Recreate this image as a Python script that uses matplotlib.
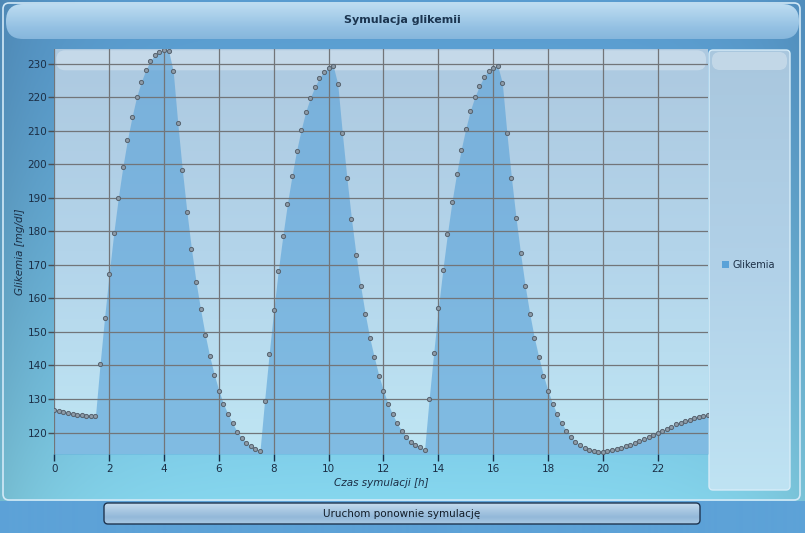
import numpy as np
import matplotlib.pyplot as plt
import matplotlib.colors as mcolors
from matplotlib import font_manager
from matplotlib.patches import FancyBboxPatch

# glucose simulation, one sample every 10 minutes
time_min = np.arange(0, 1440, 10)
glucose = [
    126.8, 126.3, 126.0, 125.7, 125.5, 125.2, 125.1, 124.8, 124.8, 124.8,
    140.3, 154.3, 167.3, 179.4, 190.0, 199.3, 207.3, 214.1, 220.1, 224.5,
    228.1, 230.8, 232.7, 233.6, 234.1,
    233.9, 227.9, 212.4, 198.4, 185.9, 174.8, 165.0, 156.7, 149.2, 142.7,
    137.3, 132.5, 128.6, 125.4, 122.7, 120.3, 118.5, 117.0, 116.1, 115.2, 114.6,
    129.5, 143.5, 156.4, 168.3, 178.7, 188.3, 196.6, 204.1, 210.3, 215.7,
    219.8, 223.1, 225.8, 227.6, 228.8, 229.4,
    224.0, 209.4, 196.0, 183.8, 173.1, 163.8, 155.5, 148.3, 142.4, 137.0,
    132.5, 128.6, 125.4, 122.7, 120.6, 118.8, 117.3, 116.4, 115.8, 114.9,
    130.1, 143.8, 157.0, 168.6, 179.3, 188.9, 197.2, 204.4, 210.6, 216.0,
    220.1, 223.4, 226.1, 227.9, 228.8, 229.4,
    224.3, 209.4, 196.0, 184.1, 173.4, 163.8, 155.5, 148.3, 142.4, 137.0,
    132.5, 128.6, 125.4, 122.7, 120.6, 118.8, 117.3, 116.4, 115.5, 114.9,
    114.6, 114.3, 114.3, 114.6, 114.9, 115.2, 115.5, 116.1, 116.4, 117.0,
    117.6, 118.2, 118.8, 119.4, 120.0, 120.6, 121.2, 121.8, 122.4, 122.7,
    123.3, 123.6, 124.2, 124.5, 124.8, 125.1,
]
x_ticks = [0, 2, 4, 6, 8, 10, 12, 14, 16, 18, 20, 22]
y_ticks = [120, 130, 140, 150, 160, 170, 180, 190, 200, 210, 220, 230]

title = 'Symulacja glikemii'
x_label = 'Czas symulacji [h]'
y_label = 'Glikemia [mg/dl]'
series_name = 'Glikemia'
button_text = 'Uruchom ponownie symulację'

hours = time_min / 60.0

names = {f.name for f in font_manager.fontManager.ttflist}
narrow = 'Liberation Sans Narrow' if 'Liberation Sans Narrow' in names else 'DejaVu Sans'
text_col = '#1b2e45'

W, H = 805, 533
fig = plt.figure(figsize=(W / 100, H / 100), dpi=100)

# background in pixel coordinates
bg = fig.add_axes([0, 0, 1, 1])
bg.set_xlim(0, W)
bg.set_ylim(H, 0)
bg.axis('off')


def rgb(c):
    return np.array(mcolors.to_rgb(c))


def vgrad(stops, n=256):
    t = np.linspace(0, 1, n)
    pos = np.linspace(0, 1, len(stops))
    cols = np.array([rgb(c) for c in stops])
    arr = np.stack([np.interp(t, pos, cols[:, k]) for k in range(3)], axis=1)
    return arr[:, None, :]


yy, xx = np.mgrid[0:H, 0:W]
t = (yy / H) ** 1.3
img = rgb('#5a9dd1') * (1 - t[..., None]) + rgb('#8adcf1') * t[..., None]
edge = 1 - 0.13 * np.exp(-xx / 70.0) - 0.10 * np.exp(-(W - xx) / 70.0)
img = img * edge[..., None]
img[yy > 500] = rgb('#5da2d7')
bg.imshow(np.clip(img, 0, 1), extent=(0, W, H, 0), aspect='auto', zorder=0)

# main panel border
bg.add_patch(FancyBboxPatch((3, 3), 797, 497, boxstyle='round,pad=0,rounding_size=6',
                            fc='none', ec='#d2e9f7', lw=1.2, zorder=1))

# title band
tb = FancyBboxPatch((6, 4), 793, 35, boxstyle='round,pad=0,rounding_size=17',
                    fc='none', ec='none', zorder=2)
bg.add_patch(tb)
im = bg.imshow(vgrad(['#bddcf1', '#a9cfea', '#94c1e3', '#86b6dc']), extent=(6, 799, 39, 4),
               aspect='auto', zorder=2)
im.set_clip_path(tb)

# plot area background
L, R, T, B = 54.3, 708.0, 49.3, 454.0
bg.imshow(vgrad(['#adc9e0', '#b3d4ea', '#bfe6f4']), extent=(L, R, B, T), aspect='auto', zorder=2)
bg.add_patch(FancyBboxPatch((L + 2, T + 1), R - L - 4, 20, boxstyle='round,pad=0,rounding_size=9',
                            fc='white', ec='none', alpha=0.3, zorder=3))

# legend panel
lp = FancyBboxPatch((709, 50), 81, 440, boxstyle='round,pad=0,rounding_size=4',
                    fc='none', ec='#d6ecf8', lw=1, zorder=3)
bg.add_patch(lp)
im = bg.imshow(vgrad(['#a9c7de', '#b1d1e8', '#bfe3f3']), extent=(709, 790, 490, 50),
               aspect='auto', zorder=2)
im.set_clip_path(lp)
bg.add_patch(FancyBboxPatch((712, 52), 75, 18, boxstyle='round,pad=0,rounding_size=8',
                            fc='white', ec='none', alpha=0.3, zorder=3))

# button
bt = FancyBboxPatch((104, 503), 596, 21, boxstyle='round,pad=0,rounding_size=4',
                    fc='none', ec='#1f3550', lw=1, zorder=3)
bg.add_patch(bt)
im = bg.imshow(vgrad(['#c6dcee', '#aac9e3', '#93b8d9', '#a9c9e4']), extent=(104, 700, 524, 503),
               aspect='auto', zorder=2)
im.set_clip_path(bt)
bg.text(402, 514, button_text, ha='center', va='center', fontsize=7.5,
        family=[narrow, 'DejaVu Sans'], color='#111c28', zorder=4)

fig.text(402 / W, 1 - 20 / H, title, ha='center', va='center', fontsize=8,
         fontweight='bold', family=[narrow, 'DejaVu Sans'], color='#1b3550')

# chart
ax = fig.add_axes([L / W, 1 - B / H, (R - L) / W, (B - T) / H])
ax.set_facecolor('none')
y_lo, y_hi = 113.6, 234.3
fill = ax.fill_between(hours, glucose, y_lo, color='#5aa2d8', alpha=0.62, lw=0, label=series_name)
ax.plot(hours, glucose, ls='none', marker='o', ms=3.0, mfc='#8d9ba8', mec='#56626e', mew=0.7, zorder=3)

ax.set_xlim(hours[0], hours[-1])
ax.set_ylim(y_lo, y_hi)
ax.set_xticks(x_ticks)
ax.set_yticks(y_ticks)
ax.grid(True, color='#727579', lw=0.9)
for s in ax.spines.values():
    s.set_visible(False)
ax.tick_params(axis='y', length=4, width=1, color='#4a4f55', pad=1, labelsize=7.5, labelcolor=text_col)
ax.tick_params(axis='x', length=5, width=1, color='#1b2e45', pad=2, labelsize=7.5, labelcolor=text_col)
for lab in ax.get_xticklabels():
    lab.set_family([narrow, 'DejaVu Sans'])

ax.set_xlabel(x_label, fontsize=7.5, style='italic', family=[narrow, 'DejaVu Sans'],
              color=text_col, labelpad=3)
ax.set_ylabel(y_label, fontsize=7.5, style='italic', color=text_col, labelpad=2)

leg = fig.legend(handles=[fill], labels=[series_name], loc='center left',
                 bbox_to_anchor=(713 / W, 1 - 265 / H), frameon=False, fontsize=7,
                 handlelength=0.75, handleheight=0.75, handletextpad=0.35,
                 labelcolor=text_col)
leg.legend_handles[0].set_alpha(1)
leg.legend_handles[0].set_color('#5aa2d8')

fig.savefig('out.png', dpi=100)
